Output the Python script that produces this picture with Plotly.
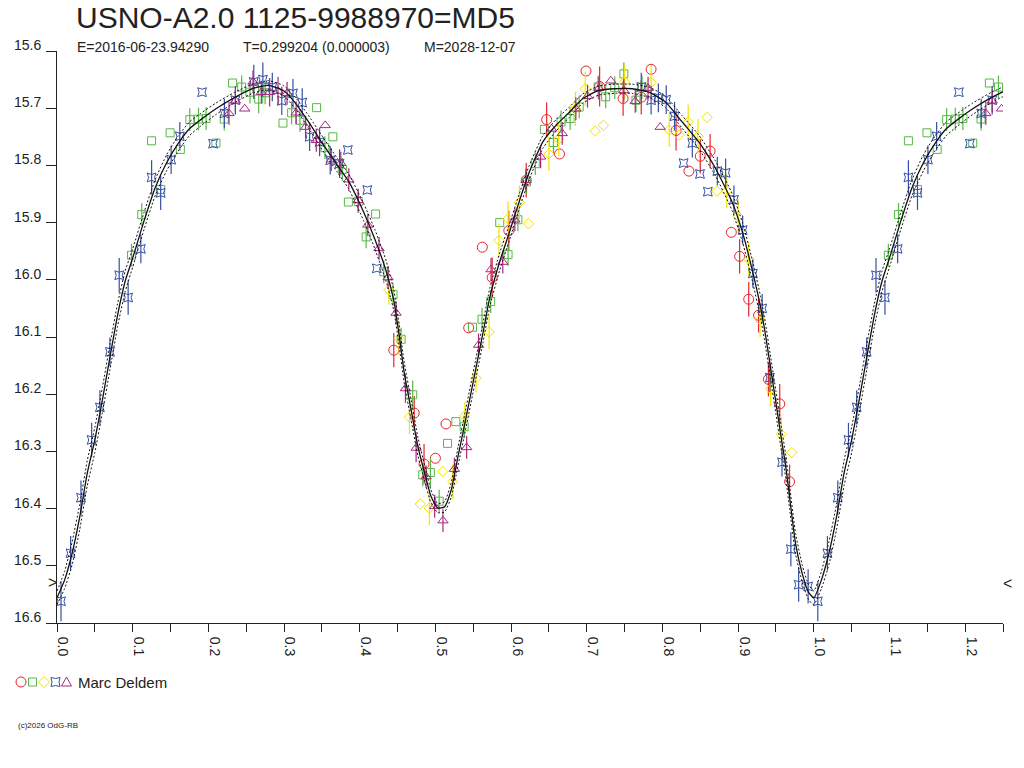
import plotly.graph_objects as go

# ---------------- data (phase, magnitude, error) ----------------
red_phase = [0.445, 0.472, 0.485, 0.500, 0.514, 0.544, 0.562, 0.575, 0.597, 0.620, 0.647, 0.664,
             0.699, 0.717, 0.748, 0.772, 0.785, 0.818, 0.835, 0.850, 0.863, 0.891, 0.902, 0.914,
             0.927, 0.940, 0.955, 0.968]
red_mag = [16.123, 16.233, 16.322, 16.312, 16.252, 16.084, 15.943, 15.996, 15.914, 15.826, 15.720, 15.780,
           15.635, 15.662, 15.683, 15.681, 15.632, 15.739, 15.810, 15.784, 15.775, 15.917, 15.959, 16.034,
           16.062, 16.174, 16.217, 16.353]
red_err = [0.03, 0.03, 0.035, 0.0, 0.0, 0.0, 0.0, 0.035, 0.035, 0.03, 0.03, 0.0,
           0.0, 0.035, 0.03, 0.03, 0.0, 0.035, 0.0, 0.03, 0.03, 0.0, 0.03, 0.03,
           0.03, 0.03, 0.035, 0.03]

green_phase = [0.0985, 0.112, 0.125, 0.137, 0.1495, 0.163, 0.1755, 0.187, 0.197, 0.210, 0.221, 0.232,
               0.244, 0.255, 0.2665, 0.275, 0.2986, 0.310, 0.321, 0.343, 0.354, 0.3645, 0.377, 0.385,
               0.398, 0.4085, 0.421, 0.4318, 0.444, 0.4547, 0.470, 0.4833, 0.4934, 0.505, 0.516, 0.527,
               0.538, 0.549, 0.5616, 0.573, 0.585, 0.596, 0.609, 0.6205, 0.632, 0.644, 0.656, 0.666,
               0.678, 0.690, 0.715, 0.725, 0.737, 0.749, 0.765, 0.773]
green_mag = [15.957, 15.886, 15.757, 15.842, 15.743, 15.772, 15.720, 15.719, 15.718, 15.761, 15.719, 15.656,
             15.663, 15.672, 15.684, 15.673, 15.726, 15.708, 15.721, 15.699, 15.769, 15.750, 15.807, 15.864,
             15.863, 15.925, 15.885, 15.986, 16.026, 16.104, 16.201, 16.341, 16.337, 16.387, 16.286, 16.248,
             16.257, 16.083, 16.069, 16.038, 15.900, 15.956, 15.895, 15.829, 15.797, 15.737, 15.760, 15.724,
             15.718, 15.698, 15.663, 15.680, 15.664, 15.640, 15.686, 15.663]
green_err = [0.02, 0.02, 0.0, 0.0, 0.0, 0.0, 0.02, 0.02, 0.02, 0.0, 0.02, 0.0,
             0.02, 0.02, 0.025, 0.02, 0.0, 0.02, 0.02, 0.0, 0.02, 0.0, 0.02, 0.0,
             0.02, 0.02, 0.0, 0.02, 0.02, 0.02, 0.025, 0.02, 0.025, 0.02, 0.0, 0.0,
             0.02, 0.0, 0.02, 0.02, 0.0, 0.02, 0.02, 0.02, 0.02, 0.0, 0.02, 0.02,
             0.02, 0.02, 0.02, 0.02, 0.02, 0.02, 0.02, 0.02]

yellow_phase = [0.4385, 0.452, 0.4657, 0.480, 0.492, 0.5097, 0.523, 0.539, 0.5537, 0.571, 0.584, 0.596,
                0.611, 0.623, 0.650, 0.663, 0.685, 0.698, 0.711, 0.722, 0.750, 0.785, 0.809, 0.822,
                0.834, 0.847, 0.859, 0.872, 0.885, 0.900, 0.914, 0.929, 0.943, 0.957, 0.971]
yellow_mag = [16.018, 16.102, 16.240, 16.392, 16.399, 16.335, 16.353, 16.238, 16.172, 16.091, 15.931, 15.893,
              15.865, 15.902, 15.780, 15.754, 15.701, 15.666, 15.740, 15.730, 15.654, 15.655, 15.738, 15.747,
              15.724, 15.749, 15.716, 15.845, 15.845, 15.889, 15.964, 16.070, 16.191, 16.270, 16.302]
yellow_err = [0.025, 0.03, 0.03, 0.0, 0.03, 0.0, 0.03, 0.025, 0.025, 0.03, 0.03, 0.03,
              0.03, 0.0, 0.03, 0.03, 0.03, 0.03, 0.0, 0.0, 0.03, 0.03, 0.03, 0.0,
              0.03, 0.03, 0.0, 0.0, 0.03, 0.03, 0.03, 0.03, 0.03, 0.03, 0.0]

blue_phase = [0.0053, 0.018, 0.0317, 0.0458, 0.0567, 0.0699, 0.0822, 0.094, 0.1108, 0.125, 0.137, 0.1508,
              0.1623, 0.1917, 0.2062, 0.2212, 0.2357, 0.260, 0.272, 0.2845, 0.297, 0.3118, 0.324, 0.3338,
              0.347, 0.361, 0.3734, 0.3843, 0.410, 0.4226, 0.772, 0.785, 0.7946, 0.805, 0.816, 0.828,
              0.8395, 0.8496, 0.860, 0.8725, 0.8835, 0.8945, 0.906, 0.9195, 0.9318, 0.942, 0.958, 0.9697,
              0.980, 0.9925]
blue_mag = [16.562, 16.478, 16.381, 16.280, 16.223, 16.126, 15.992, 16.031, 15.946, 15.821, 15.848, 15.790,
            15.749, 15.672, 15.762, 15.709, 15.686, 15.654, 15.650, 15.663, 15.687, 15.674, 15.690, 15.750,
            15.759, 15.791, 15.797, 15.773, 15.843, 15.980, 15.663, 15.686, 15.682, 15.685, 15.714, 15.796,
            15.761, 15.815, 15.846, 15.810, 15.813, 15.860, 15.913, 15.989, 16.050, 16.171, 16.319, 16.471,
            16.533, 16.536]
blue_err = [0.035, 0.03, 0.03, 0.03, 0.03, 0.025, 0.03, 0.03, 0.025, 0.03, 0.03, 0.025,
            0.025, 0.0, 0.0, 0.025, 0.025, 0.03, 0.03, 0.025, 0.025, 0.025, 0.025, 0.025,
            0.025, 0.025, 0.025, 0.0, 0.0, 0.0, 0.025, 0.025, 0.025, 0.025, 0.025, 0.0,
            0.025, 0.0, 0.0, 0.025, 0.025, 0.025, 0.025, 0.025, 0.025, 0.025, 0.025, 0.03,
            0.03, 0.03]

purple_phase = [0.2273, 0.2357, 0.248, 0.259, 0.270, 0.281, 0.292, 0.304, 0.316, 0.3285, 0.3426, 0.3544,
                0.3624, 0.375, 0.3856, 0.398, 0.4107, 0.4255, 0.4375, 0.448, 0.4604, 0.4745, 0.4877, 0.499,
                0.510, 0.5251, 0.5413, 0.557, 0.5735, 0.589, 0.605, 0.6196, 0.639, 0.6535, 0.6676, 0.6856,
                0.701, 0.716, 0.7318, 0.749, 0.764, 0.781, 0.797]
purple_mag = [15.709, 15.687, 15.701, 15.654, 15.672, 15.672, 15.670, 15.674, 15.708, 15.733, 15.756, 15.730,
              15.790, 15.796, 15.825, 15.861, 15.904, 15.945, 15.996, 16.058, 16.190, 16.294, 16.344, 16.396,
              16.421, 16.331, 16.293, 16.114, 15.982, 15.969, 15.895, 15.826, 15.785, 15.736, 15.744, 15.701,
              15.679, 15.665, 15.652, 15.669, 15.688, 15.665, 15.733]
purple_err = [0.02, 0.02, 0.0, 0.02, 0.02, 0.025, 0.025, 0.02, 0.02, 0.02, 0.02, 0.0,
              0.02, 0.02, 0.02, 0.02, 0.02, 0.02, 0.02, 0.02, 0.025, 0.025, 0.02, 0.02,
              0.02, 0.02, 0.02, 0.02, 0.02, 0.02, 0.02, 0.02, 0.02, 0.0, 0.02, 0.02,
              0.02, 0.02, 0.0, 0.02, 0.02, 0.02, 0.0]

# model light curve and its two envelope curves
curve_phase = [0.000, 0.010, 0.020, 0.030, 0.040, 0.050, 0.060, 0.070, 0.080, 0.090, 0.100, 0.115,
               0.130, 0.145, 0.160, 0.175, 0.190, 0.210, 0.235, 0.260, 0.280, 0.300, 0.315, 0.335,
               0.350, 0.370, 0.385, 0.405, 0.420, 0.435, 0.445, 0.452, 0.459, 0.468, 0.477, 0.486,
               0.494, 0.503, 0.512, 0.521, 0.530, 0.538, 0.547, 0.555, 0.563, 0.572, 0.585, 0.598,
               0.611, 0.624, 0.642, 0.660, 0.677, 0.695, 0.716, 0.738, 0.760, 0.782, 0.804, 0.826,
               0.848, 0.870, 0.892, 0.906, 0.919, 0.930, 0.936, 0.943, 0.950, 0.956, 0.963, 0.968,
               0.976, 0.985, 0.993, 1.000]
curve_mag = [16.556, 16.525, 16.478, 16.415, 16.338, 16.280, 16.210, 16.135, 16.062, 16.003, 15.962, 15.897,
             15.838, 15.795, 15.762, 15.736, 15.720, 15.701, 15.681, 15.665, 15.660, 15.670, 15.691, 15.729,
             15.760, 15.799, 15.827, 15.881, 15.929, 15.985, 16.036, 16.096, 16.164, 16.228, 16.292, 16.339,
             16.378, 16.399, 16.397, 16.367, 16.308, 16.257, 16.198, 16.145, 16.092, 16.030, 15.968, 15.916,
             15.862, 15.812, 15.759, 15.729, 15.707, 15.683, 15.669, 15.666, 15.666, 15.672, 15.689, 15.724,
             15.759, 15.805, 15.864, 15.918, 15.985, 16.050, 16.095, 16.155, 16.215, 16.268, 16.327, 16.380,
             16.462, 16.515, 16.546, 16.556]
curve_upper = [16.544, 16.510, 16.458, 16.393, 16.316, 16.258, 16.188, 16.113, 16.042, 15.985, 15.946, 15.882,
               15.824, 15.781, 15.749, 15.724, 15.709, 15.691, 15.672, 15.657, 15.652, 15.661, 15.681, 15.718,
               15.748, 15.787, 15.814, 15.866, 15.912, 15.967, 16.018, 16.078, 16.146, 16.210, 16.276, 16.325,
               16.367, 16.391, 16.388, 16.354, 16.292, 16.240, 16.181, 16.128, 16.075, 16.014, 15.953, 15.902,
               15.849, 15.800, 15.748, 15.719, 15.698, 15.675, 15.661, 15.658, 15.658, 15.663, 15.679, 15.713,
               15.747, 15.792, 15.849, 15.901, 15.967, 16.031, 16.075, 16.135, 16.195, 16.248, 16.307, 16.360,
               16.444, 16.500, 16.533, 16.544]
curve_lower = [16.568, 16.540, 16.498, 16.437, 16.360, 16.302, 16.232, 16.157, 16.082, 16.021, 15.978, 15.912,
               15.852, 15.809, 15.775, 15.748, 15.731, 15.711, 15.690, 15.673, 15.668, 15.679, 15.701, 15.740,
               15.772, 15.811, 15.840, 15.896, 15.946, 16.003, 16.054, 16.114, 16.182, 16.246, 16.308, 16.353,
               16.389, 16.407, 16.406, 16.380, 16.324, 16.274, 16.215, 16.162, 16.109, 16.046, 15.983, 15.930,
               15.875, 15.824, 15.770, 15.739, 15.716, 15.691, 15.677, 15.674, 15.674, 15.681, 15.699, 15.735,
               15.771, 15.818, 15.879, 15.935, 16.003, 16.069, 16.115, 16.175, 16.235, 16.288, 16.347, 16.400,
               16.480, 16.530, 16.559, 16.568]

x_tick_vals = [0.0, 0.05, 0.1, 0.15, 0.2, 0.25, 0.3, 0.35, 0.4, 0.45, 0.5, 0.55, 0.6, 0.65, 0.7, 0.75,
               0.8, 0.85, 0.9, 0.95, 1.0, 1.05, 1.1, 1.15, 1.2, 1.25]
x_tick_text = ["0.0", "", "0.1", "", "0.2", "", "0.3", "", "0.4", "", "0.5", "", "0.6", "", "0.7", "",
               "0.8", "", "0.9", "", "1.0", "", "1.1", "", "1.2", ""]
y_tick_vals = [15.6, 15.7, 15.8, 15.9, 16.0, 16.1, 16.2, 16.3, 16.4, 16.5, 16.6]
y_tick_text = ["15.6", "15.7", "15.8", "15.9", "16.0", "16.1", "16.2", "16.3", "16.4", "16.5", "16.6"]

title_text = "USNO-A2.0 1125-9988970=MD5"
sub_texts = ["E=2016-06-23.94290", "T=0.299204 (0.000003)", "M=2028-12-07"]
observer = "Marc Deldem"
copyright_text = "(c)2026 OdG-RB"

FONT = "Liberation Sans, Arial, sans-serif"
TXT = "#222222"
RED, GREEN, YELLOW, BLUE, PURPLE = "#e8242c", "#56b847", "#f2e400", "#3550a5", "#a8287e"

# plot-area geometry in pixels
L, R, T, B = 57, 1003, 51, 623


def px(x):
    return (x - L) / (R - L)


def py(y):
    return (B - y) / (B - T)


def folded(ph, mg, er):
    """Phase-folded display: the first quarter cycle is shown again after phase 1."""
    xs, ys, es = list(ph), list(mg), list(er)
    for p, m, e in zip(ph, mg, er):
        if p < 0.25:
            xs.append(p + 1.0)
            ys.append(m)
            es.append(e)
    return xs, ys, es


def folded_curve(ph, mg):
    xs, ys = list(ph), list(mg)
    for p, m in zip(ph, mg):
        if 0.0 < p <= 0.26:
            xs.append(p + 1.0)
            ys.append(m)
    return xs, ys


fig = go.Figure()

series = [
    (red_phase, red_mag, red_err, RED, "circle-open", 10),
    (green_phase, green_mag, green_err, GREEN, "square-open", 8),
    (yellow_phase, yellow_mag, yellow_err, YELLOW, "diamond-open", 8),
    (blue_phase, blue_mag, blue_err, BLUE, "star-square-open", 8),
    (purple_phase, purple_mag, purple_err, PURPLE, "triangle-up-open", 9),
]
for ph, mg, er, col, sym, sz in series:
    xs, ys, es = folded(ph, mg, er)
    fig.add_trace(go.Scatter(
        x=xs, y=ys, mode="markers",
        marker=dict(symbol=sym, size=sz, color=col, line=dict(width=1, color=col)),
        error_y=dict(type="data", array=es, visible=True, color=col, thickness=1.2, width=0),
        showlegend=False, hoverinfo="skip"))

for arr, dash, w in ((curve_upper, "2px,2px", 1), (curve_lower, "2px,2px", 1), (curve_mag, "solid", 1.3)):
    xs, ys = folded_curve(curve_phase, arr)
    fig.add_trace(go.Scatter(x=xs, y=ys, mode="lines",
                             line=dict(color="#111111", width=w, dash=dash, shape="spline", smoothing=0.5),
                             showlegend=False, hoverinfo="skip"))

# legend symbols as pixel-sized shapes
shapes = []
leg_y = 682
def sym_shape(cx, kind, col, path=None):
    base = dict(xref="paper", yref="paper", xsizemode="pixel", ysizemode="pixel",
                xanchor=px(cx), yanchor=py(leg_y), line=dict(color=col, width=1),
                fillcolor="rgba(0,0,0,0)")
    if kind == "circle":
        base.update(type="circle", x0=-5, x1=5, y0=-5, y1=5)
    elif kind == "rect":
        base.update(type="rect", x0=-4, x1=4, y0=-4, y1=4)
    else:
        base.update(type="path", path=path)
    return base

shapes.append(sym_shape(21, "circle", RED))
shapes.append(sym_shape(32.5, "rect", GREEN))
shapes.append(sym_shape(44, "path", YELLOW, "M0,5.5 L5.5,0 L0,-5.5 L-5.5,0 Z"))
shapes.append(sym_shape(55.5, "path", BLUE,
                        "M-4.5,4.5 Q0,2.5 4.5,4.5 Q2.5,0 4.5,-4.5 Q0,-2.5 -4.5,-4.5 Q-2.5,0 -4.5,4.5 Z"))
shapes.append(sym_shape(66.5, "path", PURPLE, "M0,5 L5,-4 L-5,-4 Z"))

ann = []
def add_text(x, y, text, size, anchor="left"):
    ann.append(dict(x=px(x), y=py(y), xref="paper", yref="paper", text=text, showarrow=False,
                    xanchor=anchor, yanchor="middle", font=dict(family=FONT, size=size, color=TXT)))

add_text(74, 17.5, title_text, 30)
for tx, sx in zip(sub_texts, [75, 241, 422]):
    add_text(sx, 47, tx, 14)
add_text(52.5, 582.5, "&gt;", 16, "center")
add_text(1007, 583, "&lt;", 16, "center")
add_text(76, 682, observer, 15)
add_text(16, 725, copyright_text, 8)

fig.update_layout(
    width=1024, height=768,
    margin=dict(l=L, r=1024 - R, t=T, b=768 - B, pad=0),
    paper_bgcolor="white", plot_bgcolor="white",
    showlegend=False,
    annotations=ann, shapes=shapes,
    xaxis=dict(range=[0, 1.25], tickmode="array", tickvals=x_tick_vals, ticktext=x_tick_text,
               ticks="outside", ticklen=8, tickwidth=1, tickcolor="#222", showline=True,
               linecolor="#222", linewidth=1, showgrid=False, zeroline=False, tickangle=90,
               ticklabelshift=6, ticklabelstandoff=2, automargin=False,
               tickfont=dict(family=FONT, size=14, color=TXT)),
    yaxis=dict(range=[16.6, 15.6], tickmode="array", tickvals=y_tick_vals, ticktext=y_tick_text,
               ticks="outside", ticklen=10, tickwidth=1, tickcolor="#222", showline=True,
               linecolor="#222", linewidth=1, showgrid=False, zeroline=False,
               ticklabelshift=6, ticklabelstandoff=2, automargin=False,
               tickfont=dict(family=FONT, size=14, color=TXT)),
)

fig.write_html("out.html", config={"displayModeBar": False},
               post_script="document.body.style.margin='0px';")
